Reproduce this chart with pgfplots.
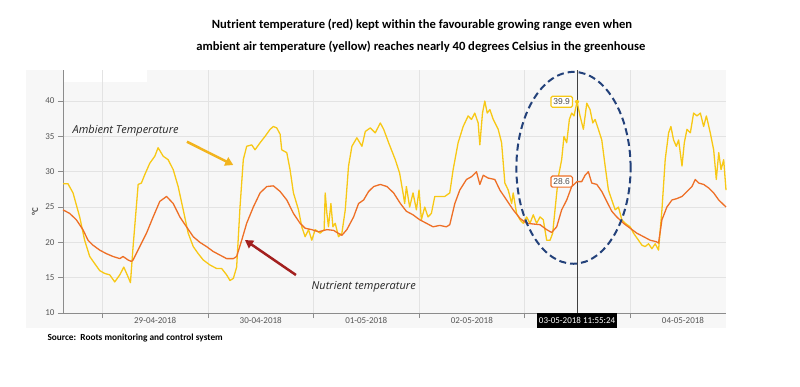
\documentclass[border=0pt]{standalone}
\usepackage{pgfplots}
\pgfplotsset{compat=1.18}
\usepackage{fontspec}
\setmainfont{Carlito}
\newfontfamily\osans{Open Sans}
\newfontfamily\lsans{Liberation Sans}
\usetikzlibrary{arrows.meta}
\definecolor{yline}{HTML}{F7C815}
\definecolor{oline}{HTML}{EE6F26}
\definecolor{yarrow}{HTML}{F2B41E}
\definecolor{rarrow}{HTML}{A3201F}
\definecolor{ellc}{HTML}{23417A}
\definecolor{panel}{HTML}{F7F7F7}
\definecolor{gridc}{HTML}{E3E3E3}
\definecolor{axc}{HTML}{8C8C8C}
\definecolor{tickt}{HTML}{555555}
\begin{document}
\begin{tikzpicture}
\useasboundingbox (0,0) rectangle (800pt,386pt);
\fill[panel] (26pt,58pt) rectangle (726pt,316pt);
\fill[white] (63pt,304pt) rectangle (147pt,316pt);
\node[font=\bfseries\fontsize{12.6}{14}\selectfont] at (422pt,361pt) {Nutrient temperature (red) kept within the favourable growing range even when};
\node[font=\bfseries\fontsize{12.6}{14}\selectfont] at (421pt,339pt) {ambient air temperature (yellow) reaches nearly 40 degrees Celsius in the greenhouse};
\node[anchor=west,font=\bfseries\fontsize{9.3}{10}\selectfont] at (44pt,48pt) {Source:\ \ Roots monitoring and control system};
\node[rotate=90,font=\bfseries\fontsize{9}{10}\selectfont,text=tickt] at (35pt,174pt) {°C};
\begin{axis}[
  at={(63pt,73pt)}, anchor=south west,
  scale only axis, width=663pt, height=243pt,
  xmin=-0.373, xmax=5.908, ymin=10, ymax=44.4,
  axis x line*=bottom, axis y line*=left,
  axis line style={draw=axc, line width=1pt},
  xtick={0,1,2,3,4,5}, xticklabels={},
  ytick={10,15,20,25,30,35,40},
  tick align=outside, major tick length=5pt,
  tick style={draw=axc, line width=0.8pt},
  grid=major, grid style={draw=gridc, line width=0.8pt},
  extra x ticks={0.5,1.5,2.5,3.5,5.5},
  extra x tick labels={29-04-2018,30-04-2018,01-05-2018,02-05-2018,04-05-2018},
  extra x tick style={grid=none, major tick length=0pt, xticklabel style={yshift=-1pt}},
  ticklabel style={font=\fontsize{9}{10}\selectfont, text=tickt},
  /pgf/number format/assume math mode=true,
  clip=false,
]
\draw[black!75, line width=0.8pt] (axis cs:4.497,10) -- (axis cs:4.497,44.4);
\addplot[yline, line width=1.3pt, line join=round] coordinates {
(-0.373,28.3) (-0.326,28.3) (-0.278,27.0) (-0.215,23.6) (-0.168,20.3) (-0.120,18.0) (-0.073,17.0) (-0.025,16.0) (0.022,15.6) (0.070,15.4) (0.117,14.4) (0.165,15.4) (0.203,16.5) (0.244,15.1) (0.266,14.3) (0.291,19.4) (0.339,28.2) (0.370,28.4) (0.402,29.6) (0.449,31.2) (0.497,32.2) (0.528,33.4) (0.576,32.2) (0.623,31.7) (0.671,30.3) (0.718,27.9) (0.766,24.6) (0.813,21.3) (0.861,19.4) (0.908,18.4) (0.956,17.5) (1.019,16.8) (1.082,16.3) (1.130,16.3) (1.177,15.4) (1.209,14.6) (1.241,14.9) (1.272,16.5) (1.304,25.0) (1.335,31.7) (1.367,33.6) (1.415,33.8) (1.446,33.1) (1.494,34.1) (1.541,35.0) (1.589,36.0) (1.620,36.4) (1.652,36.2) (1.684,35.3) (1.699,33.1) (1.747,32.7) (1.778,30.3) (1.810,27.0) (1.858,24.6) (1.889,22.2) (1.921,20.8) (1.953,21.8) (1.984,20.3) (2.016,21.8) (2.063,21.3) (2.101,21.8) (2.111,27.0) (2.127,24.1) (2.142,22.2) (2.165,25.5) (2.184,22.2) (2.206,22.7) (2.237,20.8) (2.269,21.3) (2.301,24.6) (2.332,30.8) (2.364,33.6) (2.411,34.8) (2.459,33.6) (2.491,35.7) (2.538,36.2) (2.585,35.5) (2.633,36.9) (2.665,36.0) (2.712,34.1) (2.775,31.7) (2.816,29.8) (2.848,27.0) (2.864,25.5) (2.880,27.9) (2.911,25.0) (2.943,27.0) (2.975,24.6) (3.000,27.4) (3.022,23.2) (3.054,25.0) (3.085,23.6) (3.117,24.1) (3.149,26.5) (3.196,26.5) (3.244,26.5) (3.291,27.0) (3.323,30.3) (3.370,34.1) (3.418,36.4) (3.465,37.9) (3.497,37.4) (3.528,38.3) (3.560,36.9) (3.576,33.8) (3.601,38.3) (3.623,40.0) (3.646,38.3) (3.671,38.8) (3.703,37.4) (3.750,36.0) (3.782,34.1) (3.813,28.4) (3.845,27.4) (3.877,25.5) (3.892,27.0) (3.924,24.1) (3.956,23.2) (3.987,22.7) (4.019,23.6) (4.051,22.7) (4.082,23.9) (4.114,22.7) (4.146,23.6) (4.177,23.2) (4.209,20.3) (4.241,20.3) (4.266,21.3) (4.288,24.6) (4.320,29.3) (4.351,31.7) (4.373,35.0) (4.399,34.1) (4.424,37.4) (4.446,38.3) (4.468,37.9) (4.497,39.9) (4.525,37.9) (4.557,36.0) (4.589,39.7) (4.620,38.8) (4.646,36.9) (4.668,37.4) (4.699,36.0) (4.731,34.5) (4.763,30.8) (4.794,27.4) (4.826,26.0) (4.858,24.6) (4.889,25.0) (4.921,23.2) (4.953,22.7) (5.000,22.2) (5.032,21.3) (5.079,20.3) (5.111,19.6) (5.142,19.4) (5.174,19.8) (5.206,19.1) (5.237,19.8) (5.269,18.9) (5.301,24.6) (5.332,31.7) (5.364,35.5) (5.386,36.4) (5.411,34.5) (5.437,33.6) (5.459,34.5) (5.491,30.8) (5.513,34.1) (5.538,36.0) (5.570,35.5) (5.601,38.3) (5.633,37.9) (5.665,38.3) (5.696,36.4) (5.722,37.9) (5.759,35.5) (5.791,33.1) (5.816,28.9) (5.839,32.7) (5.861,30.3) (5.886,31.7) (5.908,27.4)
};
\addplot[oline, line width=1.3pt, line join=round] coordinates {
(-0.373,24.6) (-0.310,24.1) (-0.247,23.2) (-0.184,21.8) (-0.136,20.3) (-0.089,19.6) (-0.025,18.9) (0.038,18.4) (0.101,18.0) (0.165,17.7) (0.196,18.0) (0.244,17.5) (0.275,17.3) (0.291,17.5) (0.354,19.4) (0.418,21.3) (0.481,23.6) (0.544,25.8) (0.608,26.5) (0.671,25.5) (0.734,23.6) (0.797,22.2) (0.861,20.8) (0.924,20.0) (0.987,19.4) (1.051,18.7) (1.114,18.2) (1.177,17.7) (1.241,17.7) (1.272,18.0) (1.320,20.3) (1.367,22.7) (1.430,25.0) (1.494,27.0) (1.557,27.9) (1.620,28.0) (1.684,27.2) (1.747,26.0) (1.810,24.1) (1.873,22.7) (1.921,22.0) (1.984,21.8) (2.047,21.5) (2.127,21.8) (2.190,21.7) (2.222,21.4) (2.269,21.0) (2.316,21.8) (2.380,23.6) (2.427,25.5) (2.475,26.0) (2.522,27.2) (2.570,27.9) (2.633,28.2) (2.696,27.9) (2.759,27.0) (2.823,25.5) (2.880,24.4) (2.943,23.9) (3.006,23.2) (3.070,22.7) (3.133,22.2) (3.196,22.4) (3.259,22.2) (3.291,22.5) (3.339,25.5) (3.386,27.4) (3.449,28.9) (3.497,29.3) (3.544,30.0) (3.576,28.2) (3.608,29.5) (3.655,29.1) (3.718,28.9) (3.766,27.4) (3.829,26.0) (3.892,24.6) (3.956,23.4) (4.019,22.7) (4.082,22.6) (4.146,22.5) (4.209,21.8) (4.256,21.4) (4.304,22.2) (4.351,24.6) (4.399,26.0) (4.446,27.9) (4.497,28.6) (4.541,28.6) (4.573,29.5) (4.604,30.0) (4.636,28.4) (4.684,28.2) (4.731,27.2) (4.778,25.8) (4.826,24.4) (4.873,23.6) (4.937,22.7) (5.000,22.0) (5.063,21.3) (5.127,20.8) (5.190,20.3) (5.247,20.1) (5.269,19.9) (5.301,23.2) (5.348,25.0) (5.396,26.0) (5.443,26.2) (5.491,26.5) (5.538,27.2) (5.585,27.9) (5.617,28.9) (5.649,28.4) (5.696,28.2) (5.744,27.7) (5.791,27.0) (5.839,26.0) (5.908,25.0)
};
\fill[yline] (axis cs:4.497,39.9) circle[radius=2pt];
\node[anchor=east, draw=yline, line width=1.2pt, fill=white, rounded corners=1.5pt, font=\lsans\fontsize{8.5}{9}\selectfont, text=black!70, inner sep=2.5pt] at ([xshift=-4pt]axis cs:4.497,39.9) {39.9};
\node[anchor=east, draw=oline, line width=1.2pt, fill=white, rounded corners=1.5pt, font=\lsans\fontsize{8.5}{9}\selectfont, text=black!70, inner sep=2.5pt] at ([xshift=-4pt]axis cs:4.497,28.6) {28.6};
\node[anchor=north, fill=black, text=white, font=\fontsize{9}{10}\selectfont, inner sep=2pt, minimum height=15pt] at (axis cs:4.497,10) {03-05-2018 11:55:24};
\draw[ellc, line width=2pt, dash pattern=on 7pt off 4pt] (axis cs:4.463,30.55) ellipse [x radius=0.541, y radius=13.58];
\node[anchor=west, font=\osans\itshape\fontsize{11}{12}\selectfont, text=black!85] at (axis cs:-0.315,35.76) {Ambient Temperature};
\node[anchor=west, font=\osans\itshape\fontsize{11}{12}\selectfont, text=black!85] at (axis cs:1.950,13.68) {Nutrient temperature};
\draw[yarrow, line width=2.5pt, -{Triangle[length=8pt,width=9pt]}] (axis cs:0.801,34.25) -- (axis cs:1.240,30.95);
\draw[rarrow, line width=2.5pt, -{Triangle[length=8pt,width=9pt]}] (axis cs:1.834,15.38) -- (axis cs:1.351,20.33);
\end{axis}
\end{tikzpicture}
\end{document}
